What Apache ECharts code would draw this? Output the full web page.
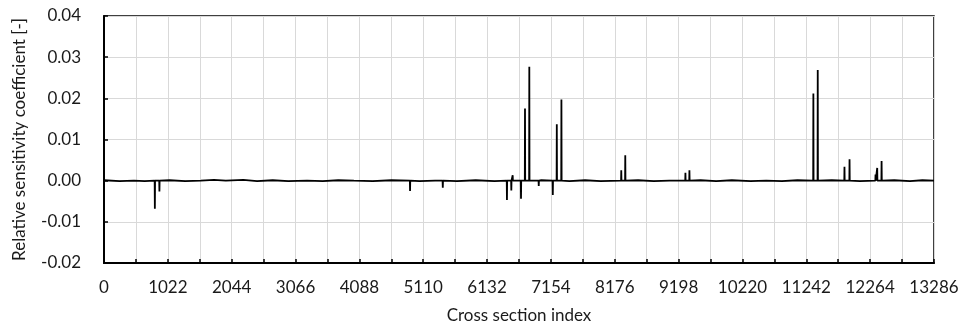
<!DOCTYPE html>
<html>
<head>
<meta charset="utf-8">
<script src="https://cdn.jsdelivr.net/npm/echarts@6/dist/echarts.min.js"></script>
<style>
  html, body { margin: 0; padding: 0; background: #fff; }
  #chart { width: 963px; height: 329px; }
</style>
</head>
<body>
<div id="chart"></div>
<script>
// Axis ticks (cross section index and coefficient range)
const xTickStep = 1022;
const xMax = 13286;
const yMin = -0.02;
const yMax = 0.04;
const yTickStep = 0.01;

// Low-level baseline readings along the profile
const baselineIndex = [0, 250, 480, 650, 1050, 1300, 1550, 1760, 1950, 2230, 2450, 2700, 2950, 3250, 3500, 3750,
  4000, 4300, 4600, 5050, 5300, 5650, 5950, 6250, 7000, 7450, 7700, 7950, 8550, 8800, 9050, 9550,
  9800, 10050, 10350, 10600, 10850, 11100, 11650, 12100, 12650, 12900, 13100, 13286];
const baselineValue = [0.0001, -0.0001, 0.0000, -0.0001, 0.0001, -0.0001, 0.0000, 0.0002, 0.0000, 0.0002, -0.0001, 0.0001, -0.0001, 0.0000, -0.0001, 0.0001,
  0.0000, -0.0001, 0.0001, -0.0001, 0.0000, -0.0001, 0.0001, -0.0001, 0.0001, -0.0001, 0.0001, -0.0001, 0.0001, -0.0001, 0.0000, 0.0001,
  -0.0001, 0.0001, -0.0001, 0.0000, -0.0001, 0.0001, 0.0001, -0.0001, 0.0001, -0.0001, 0.0001, 0.0000];

// Isolated sensitive cross sections
const spikeIndex = [814, 887, 4899, 5423, 6450, 6520, 6542, 6675, 6739, 6808, 6959, 7184, 7248, 7322,
  8280, 8344, 9307, 9371, 11355, 11425, 11853, 11934, 12350, 12377, 12447];
const spikeValue = [-0.0068, -0.0026, -0.0025, -0.0017, -0.0047, -0.0024, 0.0013, -0.0044, 0.0175, 0.0277, -0.0013, -0.0035, 0.0137, 0.0197,
  0.0025, 0.0062, 0.0019, 0.0025, 0.0212, 0.0269, 0.0034, 0.0052, 0.0015, 0.0031, 0.0048];

// Merge baseline and spikes into one ordered profile; each spike rises from and returns to the baseline
const points = [];
baselineIndex.forEach((x, i) => points.push([x, baselineValue[i]]));
spikeIndex.forEach((x, i) => {
  points.push([x - 3, 0]);
  points.push([x, spikeValue[i]]);
  points.push([x + 3, 0]);
});
points.sort((a, b) => a[0] - b[0]);

const textColor = '#1a1a1a';
const gridColor = '#d9d9d9';
const font = 'Lato, "Open Sans", sans-serif';
const fontSize = 17;

const chart = echarts.init(document.getElementById('chart'), null, { renderer: 'canvas' });
chart.setOption({
  animation: false,
  backgroundColor: '#fff',
  grid: {
    left: 104, right: 29, top: 16, bottom: 65,
    show: true, borderColor: '#000', borderWidth: 1.5, backgroundColor: 'transparent'
  },
  xAxis: {
    type: 'value',
    min: 0, max: xMax, interval: xTickStep,
    name: 'Cross section index',
    nameLocation: 'middle', nameGap: 44,
    nameTextStyle: { fontFamily: font, fontSize: fontSize, color: textColor },
    axisLine: { show: true, onZero: false, lineStyle: { color: '#000', width: 2 } },
    axisTick: { show: true, inside: true, length: 4, lineStyle: { color: '#000', width: 1.5 } },
    minorTick: { show: true, splitNumber: 2, length: 4, lineStyle: { color: '#000', width: 1.5 } },
    axisLabel: {
      fontFamily: font, fontSize: fontSize, color: textColor, margin: 16,
      showMaxLabel: true, showMinLabel: true,
      formatter: v => String(v)
    },
    splitLine: { show: true, lineStyle: { color: gridColor, width: 1 } },
    minorSplitLine: { show: true, lineStyle: { color: gridColor, width: 1 } }
  },
  yAxis: {
    type: 'value',
    min: yMin, max: yMax, interval: yTickStep,
    name: 'Relative sensitivity coefficient [-]',
    nameLocation: 'middle', nameGap: 76, nameRotate: 90,
    nameTextStyle: { fontFamily: font, fontSize: fontSize, color: textColor },
    axisLine: { show: true, onZero: false, lineStyle: { color: '#000', width: 2 } },
    axisTick: { show: true, inside: true, length: 4, lineStyle: { color: '#000', width: 1.5 } },
    axisLabel: {
      fontFamily: font, fontSize: fontSize, color: textColor, margin: 23,
      formatter: v => v.toFixed(2)
    },
    splitLine: { show: true, lineStyle: { color: gridColor, width: 1 } }
  },
  series: [{
    type: 'line',
    data: points,
    showSymbol: false,
    symbol: 'none',
    lineStyle: { color: '#000', width: 1.8 },
    clip: true
  }]
});
</script>
</body>
</html>
